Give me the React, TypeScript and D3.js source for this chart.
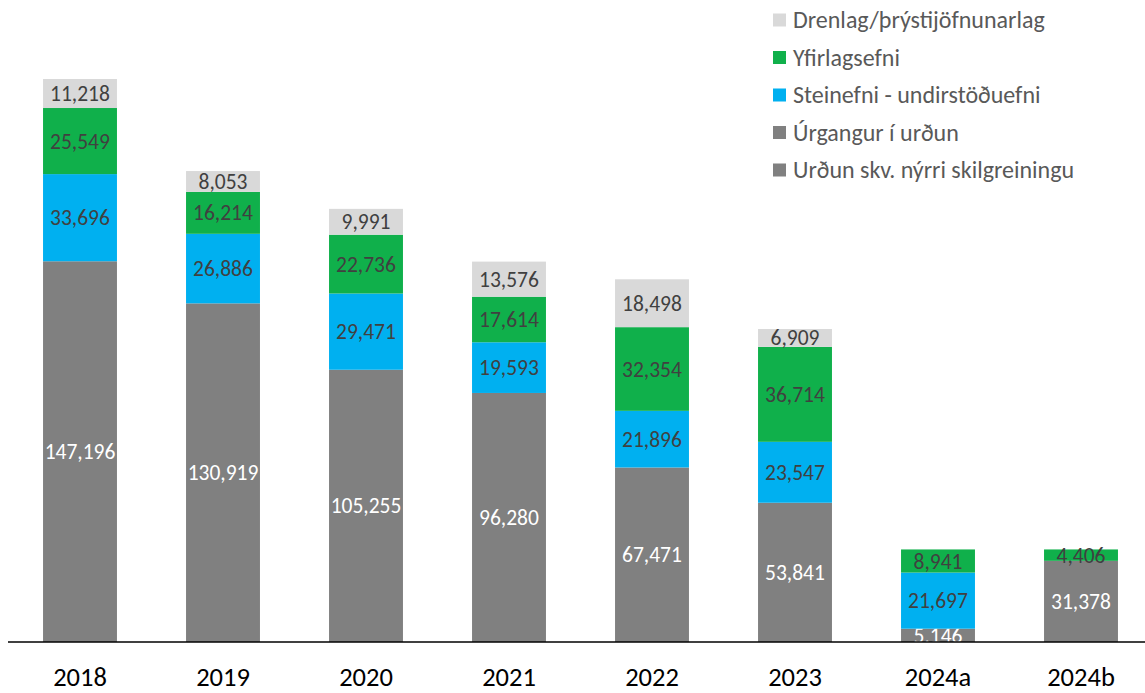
import React from "react";
import * as d3 from "d3";

const categories = ["2018", "2019", "2020", "2021", "2022", "2023", "2024a", "2024b"];
const urdunNy = [0, 0, 0, 0, 0, 0, 0, 31378];
const urgangur = [147196, 130919, 105255, 96280, 67471, 53841, 5146, 0];
const steinefni = [33696, 26886, 29471, 19593, 21896, 23547, 21697, 0];
const yfirlag = [25549, 16214, 22736, 17614, 32354, 36714, 8941, 4406];
const drenlag = [11218, 8053, 9991, 13576, 18498, 6909, 0, 0];

const seriesNames = [
  "Urðun skv. nýrri skilgreiningu",
  "Úrgangur í urðun",
  "Steinefni - undirstöðuefni",
  "Yfirlagsefni",
  "Drenlag/þrýstijöfnunarlag",
];
const seriesValues = [urdunNy, urgangur, steinefni, yfirlag, drenlag];
const seriesColors = ["#808080", "#808080", "#00B0F0", "#10B04B", "#D9D9D9"];
const labelColors = ["#FFFFFF", "#FFFFFF", "#404040", "#404040", "#404040"];

const W = 1145;
const H = 693;
const baseY = 642;
const FONT = "Carlito, Calibri, Lato, sans-serif";

export default function App() {
  const x = d3.scaleBand<string>().domain(categories).range([8.5, 1152.5]).paddingInner(0.483).paddingOuter(0.2415);
  const totals = categories.map((_, i) => seriesValues.reduce((s, arr) => s + arr[i], 0));
  const y = d3.scaleLinear().domain([0, d3.max(totals) as number]).range([baseY, 79]);

  const table = categories.map((c, i) => {
    const o: Record<string, number | string> = { cat: c };
    seriesNames.forEach((n, k) => (o[n] = seriesValues[k][i]));
    return o;
  });
  const stacked = d3.stack<Record<string, number | string>>().keys(seriesNames)(table as any);

  const legendOrder = [4, 3, 2, 1, 0];

  return (
    <svg width={W} height={H} style={{ position: "absolute", left: 0, top: 0, fontFamily: FONT }}>
      <rect width={W} height={H} fill="#fff" />
      {stacked.map((layer, k) => (
        <g key={k}>
          {layer.map((d, i) => {
            const v = d[1] - d[0];
            if (!v) return null;
            const bx = x(categories[i]) as number;
            const y0 = y(d[0]);
            const y1 = y(d[1]);
            return (
              <g key={i}>
                <rect x={bx} y={y1} width={x.bandwidth()} height={y0 - y1} fill={seriesColors[k]} />
                <text
                  x={bx + x.bandwidth() / 2}
                  y={(y0 + y1) / 2}
                  dy="0.35em"
                  textAnchor="middle"
                  fontSize={21.5}
                  fill={labelColors[k]}
                >
                  {d3.format(",")(v)}
                </text>
              </g>
            );
          })}
        </g>
      ))}
      <line x1={8} x2={W} y1={baseY} y2={baseY} stroke="#000" strokeWidth={1.5} />
      {categories.map((c) => (
        <text
          key={c}
          x={(x(c) as number) + x.bandwidth() / 2}
          y={686}
          textAnchor="middle"
          fontSize={26.5}
          fill="#000"
        >
          {c}
        </text>
      ))}
      {legendOrder.map((k, j) => (
        <g key={k} transform={`translate(773, ${20 + j * 37.5})`}>
          <rect x={0} y={-6.5} width={13} height={13} fill={seriesColors[k]} />
          <text x={20} y={0} dy="0.35em" fontSize={24} fill="#595959">
            {seriesNames[k]}
          </text>
        </g>
      ))}
    </svg>
  );
}
